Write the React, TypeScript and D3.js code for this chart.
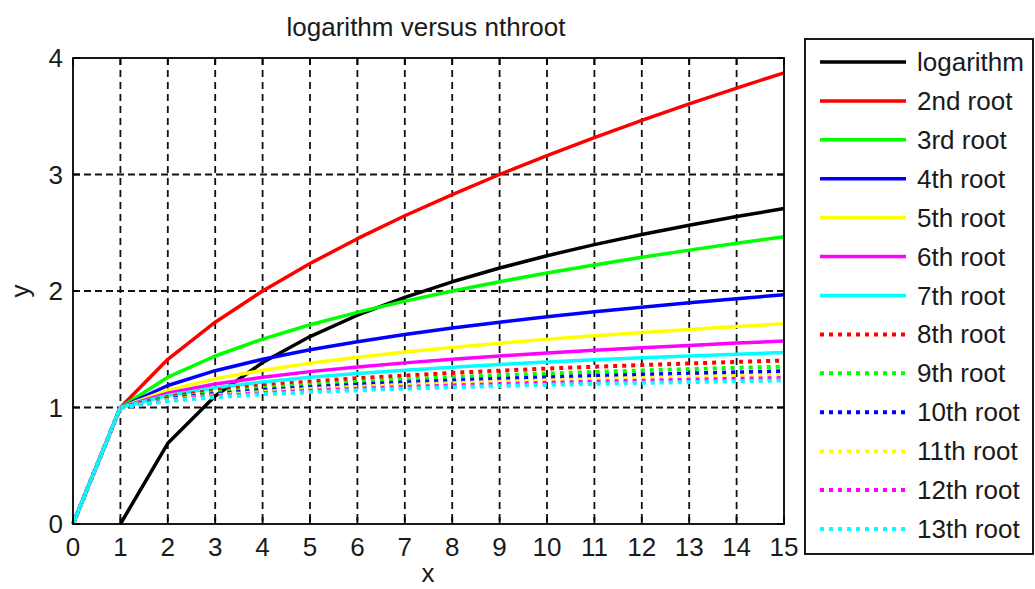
import React from "react";
import * as d3 from "d3";

// x samples shared by every root curve
const xs = [0, 1, 2, 3, 4, 5, 6, 7, 8, 9, 10, 11, 12, 13, 14, 15];
// natural logarithm is sampled from x = 1
const logX = [1, 2, 3, 4, 5, 6, 7, 8, 9, 10, 11, 12, 13, 14, 15];
const logY = [0, 0.693, 1.099, 1.386, 1.609, 1.792, 1.946, 2.079, 2.197, 2.303, 2.398, 2.485, 2.565, 2.639, 2.708];

const root2 = [0, 1, 1.414, 1.732, 2, 2.236, 2.449, 2.646, 2.828, 3, 3.162, 3.317, 3.464, 3.606, 3.742, 3.873];
const root3 = [0, 1, 1.26, 1.442, 1.587, 1.71, 1.817, 1.913, 2, 2.08, 2.154, 2.224, 2.289, 2.351, 2.41, 2.466];
const root4 = [0, 1, 1.189, 1.316, 1.414, 1.495, 1.565, 1.627, 1.682, 1.732, 1.778, 1.821, 1.861, 1.899, 1.934, 1.968];
const root5 = [0, 1, 1.149, 1.246, 1.32, 1.38, 1.431, 1.476, 1.516, 1.552, 1.585, 1.615, 1.644, 1.67, 1.695, 1.719];
const root6 = [0, 1, 1.122, 1.201, 1.26, 1.308, 1.348, 1.383, 1.414, 1.442, 1.468, 1.491, 1.513, 1.533, 1.553, 1.57];
const root7 = [0, 1, 1.104, 1.17, 1.219, 1.259, 1.292, 1.32, 1.346, 1.369, 1.39, 1.409, 1.426, 1.443, 1.458, 1.472];
const root8 = [0, 1, 1.091, 1.147, 1.189, 1.223, 1.251, 1.275, 1.297, 1.316, 1.334, 1.35, 1.364, 1.378, 1.391, 1.403];
const root9 = [0, 1, 1.08, 1.13, 1.167, 1.196, 1.22, 1.241, 1.26, 1.277, 1.292, 1.305, 1.318, 1.33, 1.341, 1.351];
const root10 = [0, 1, 1.072, 1.116, 1.149, 1.175, 1.196, 1.215, 1.231, 1.246, 1.259, 1.271, 1.282, 1.292, 1.302, 1.311];
const root11 = [0, 1, 1.065, 1.105, 1.134, 1.158, 1.177, 1.194, 1.208, 1.221, 1.233, 1.244, 1.254, 1.263, 1.271, 1.279];
const root12 = [0, 1, 1.059, 1.096, 1.122, 1.144, 1.161, 1.176, 1.189, 1.201, 1.212, 1.221, 1.23, 1.238, 1.246, 1.253];
const root13 = [0, 1, 1.055, 1.088, 1.113, 1.132, 1.148, 1.162, 1.174, 1.184, 1.194, 1.203, 1.211, 1.218, 1.225, 1.232];

const seriesNames = ["logarithm", "2nd root", "3rd root", "4th root", "5th root", "6th root", "7th root",
  "8th root", "9th root", "10th root", "11th root", "12th root", "13th root"];
const seriesColors = ["#000000", "#ff0000", "#00ff00", "#0000ff", "#ffff00", "#ff00ff", "#00ffff",
  "#ff0000", "#00ff00", "#0000ff", "#ffff00", "#ff00ff", "#00ffff"];
const seriesDotted = [false, false, false, false, false, false, false, true, true, true, true, true, true];

const xTicks = [0, 1, 2, 3, 4, 5, 6, 7, 8, 9, 10, 11, 12, 13, 14, 15];
const yTicks = [0, 1, 2, 3, 4];

const titleText = "logarithm versus nthroot";
const xLabel = "x";
const yLabel = "y";

const W = 1035;
const H = 589;
const plot = { left: 73, right: 784, top: 58, bottom: 524 };
const legend = { left: 805, top: 39, right: 1033, bottom: 554 };
const FONT = "'Liberation Sans', Arial, sans-serif";
const FS = 26;
const TEXT = "#1a1a1a";

export default function App() {
  const x = d3.scaleLinear().domain([0, 15]).range([plot.left, plot.right]);
  const y = d3.scaleLinear().domain([0, 4]).range([plot.bottom, plot.top]);

  const rootSeries = [root2, root3, root4, root5, root6, root7, root8, root9, root10, root11, root12, root13];
  const data: [number, number][][] = [
    logX.map((v, i) => [v, logY[i]] as [number, number]),
    ...rootSeries.map((s) => xs.map((v, i) => [v, s[i]] as [number, number])),
  ];

  const line = d3
    .line<[number, number]>()
    .x((d) => x(d[0]))
    .y((d) => y(d[1]));

  const dotDash = "4,5";
  const rowStep = (529 - 62) / 12;

  return (
    <svg
      width={W}
      height={H}
      style={{ position: "absolute", left: 0, top: 0, background: "#fff" }}
      fontFamily={FONT}
    >
      <rect x={0} y={0} width={W} height={H} fill="#fff" />

      {/* grid */}
      {xTicks.slice(1, -1).map((t) => (
        <line key={"gx" + t} x1={x(t)} x2={x(t)} y1={plot.top} y2={plot.bottom}
          stroke="#111" strokeWidth={1.8} strokeDasharray="7,5" />
      ))}
      {yTicks.slice(1, -1).map((t) => (
        <line key={"gy" + t} x1={plot.left} x2={plot.right} y1={y(t)} y2={y(t)}
          stroke="#111" strokeWidth={1.8} strokeDasharray="7,4" />
      ))}

      {/* curves */}
      <defs>
        <clipPath id="plotClip">
          <rect x={plot.left - 2} y={plot.top - 2} width={plot.right - plot.left + 4} height={plot.bottom - plot.top + 4} />
        </clipPath>
      </defs>
      <g clipPath="url(#plotClip)">
        {data.map((d, i) => (
          <path key={"s" + i} d={line(d) || ""} fill="none" stroke={seriesColors[i]}
            strokeWidth={seriesDotted[i] ? 4 : 3.5} strokeLinejoin="round"
            strokeDasharray={seriesDotted[i] ? dotDash : undefined} />
        ))}
      </g>

      {/* axes box and inner ticks */}
      <rect x={plot.left} y={plot.top} width={plot.right - plot.left} height={plot.bottom - plot.top}
        fill="none" stroke="#000" strokeWidth={1.8} />
      {xTicks.map((t) => (
        <g key={"tx" + t}>
          <line x1={x(t)} x2={x(t)} y1={plot.bottom} y2={plot.bottom - 7} stroke="#000" strokeWidth={1.8} />
          <line x1={x(t)} x2={x(t)} y1={plot.top} y2={plot.top + 7} stroke="#000" strokeWidth={1.8} />
          <text x={x(t)} y={556} textAnchor="middle" fontSize={FS} fill={TEXT}>{t}</text>
        </g>
      ))}
      {yTicks.map((t) => (
        <g key={"ty" + t}>
          <line x1={plot.left} x2={plot.left + 7} y1={y(t)} y2={y(t)} stroke="#000" strokeWidth={1.8} />
          <line x1={plot.right} x2={plot.right - 7} y1={y(t)} y2={y(t)} stroke="#000" strokeWidth={1.8} />
          <text x={63} y={y(t) + 9} textAnchor="end" fontSize={FS} fill={TEXT}>{t}</text>
        </g>
      ))}

      {/* labels */}
      <text x={426} y={36} textAnchor="middle" fontSize={FS} fill={TEXT}>{titleText}</text>
      <text x={428} y={582} textAnchor="middle" fontSize={FS} fill={TEXT}>{xLabel}</text>
      <text transform="translate(29,291) rotate(-90)" textAnchor="middle" fontSize={FS} fill={TEXT}>{yLabel}</text>

      {/* legend */}
      <rect x={legend.left} y={legend.top} width={legend.right - legend.left} height={legend.bottom - legend.top}
        fill="#fff" stroke="#000" strokeWidth={1.8} />
      {seriesNames.map((name, i) => {
        const cy = 62 + i * rowStep;
        return (
          <g key={"lg" + i}>
            <line x1={820} x2={906} y1={cy} y2={cy} stroke={seriesColors[i]}
              strokeWidth={seriesDotted[i] ? 4 : 3.5}
              strokeDasharray={seriesDotted[i] ? dotDash : undefined} />
            <text x={917} y={cy + 9} fontSize={FS} fill={TEXT}>{name}</text>
          </g>
        );
      })}
    </svg>
  );
}
